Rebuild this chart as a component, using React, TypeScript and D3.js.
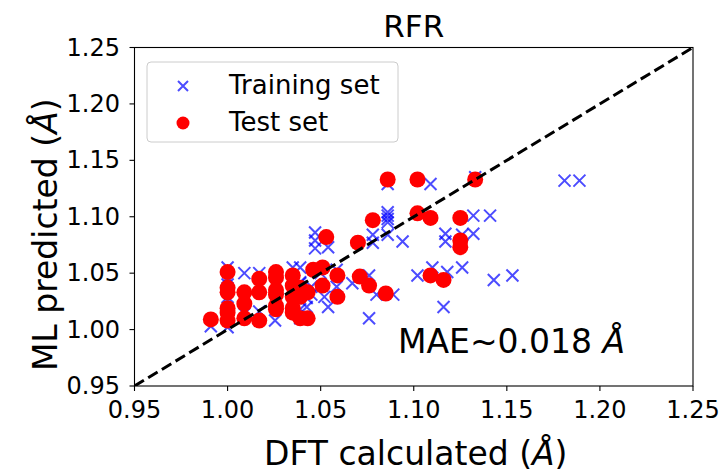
import React from "react";
import * as d3 from "d3";

const trainX = [
  0.991, 1.0, 1.0, 1.0, 1.0, 1.0, 1.0, 1.0,
  1.009, 1.009, 1.009, 1.017, 1.017, 1.017, 1.0255,
  1.035, 1.039, 1.039, 1.039, 1.039,
  1.047, 1.047, 1.047, 1.054,
  1.0425, 1.0425, 1.052, 1.054, 1.0586, 1.0586, 1.045, 1.045, 1.05, 1.039,
  1.067, 1.076, 1.08, 1.089, 1.076,
  1.078, 1.078, 1.086, 1.094,
  1.086, 1.086, 1.086, 1.086,
  1.086, 1.109, 1.133,
  1.117, 1.117, 1.126, 1.132,
  1.132, 1.141,
  1.181, 1.189,
  1.143, 1.153,
  1.102, 1.11, 1.118, 1.126,
  1.116,
];
const trainY = [
  1.003, 1.055, 1.046, 1.04, 1.029, 1.025, 1.011, 1.002,
  1.05, 1.03, 1.014, 1.05, 1.04, 1.016, 1.008,
  1.055, 1.055, 1.042, 1.018, 1.01,
  1.086, 1.079, 1.072, 1.073,
  1.02, 1.028, 1.029, 1.02, 1.038, 1.053, 1.038, 1.031, 1.05, 1.041,
  1.041, 1.048, 1.031, 1.031, 1.01,
  1.084, 1.077, 1.084, 1.078,
  1.104, 1.101, 1.098, 1.095,
  1.129, 1.129, 1.135,
  1.085, 1.078, 1.084, 1.085,
  1.101, 1.101,
  1.132, 1.132,
  1.044, 1.048,
  1.048, 1.055, 1.051, 1.055,
  1.02,
];

const testX = [
  0.991,
  1.0, 1.0, 1.0, 1.0, 1.0, 1.0,
  1.009, 1.009, 1.009,
  1.017, 1.017, 1.017,
  1.026, 1.026, 1.026, 1.026, 1.026, 1.026,
  1.035, 1.035, 1.035, 1.035, 1.035,
  1.039, 1.039, 1.039,
  1.043, 1.043,
  1.046, 1.051, 1.051, 1.059, 1.059,
  1.053,
  1.07, 1.071, 1.076, 1.078, 1.085,
  1.086, 1.102, 1.133,
  1.102, 1.109, 1.125,
  1.125, 1.125,
  1.109, 1.116,
];
const testY = [
  1.009,
  1.051, 1.037, 1.033, 1.019, 1.015, 1.008,
  1.033, 1.023, 1.01,
  1.045, 1.033, 1.008,
  1.051, 1.046, 1.035, 1.031, 1.021, 1.018,
  1.048, 1.039, 1.029, 1.019, 1.015,
  1.037, 1.029, 1.01,
  1.033, 1.01,
  1.053, 1.055, 1.039, 1.048, 1.029,
  1.082,
  1.077, 1.047, 1.039, 1.097, 1.032,
  1.133, 1.133, 1.133,
  1.103, 1.099, 1.099,
  1.079, 1.073,
  1.048, 1.044,
];

const ticks = [0.95, 1.0, 1.05, 1.1, 1.15, 1.2, 1.25];
const titleText = "RFR";
const xLabelText = "DFT calculated (";
const yLabelText = "ML predicted (";
const maeText = "MAE~0.018 ";
const legendLabels = ["Training set", "Test set"];

const W = 722;
const H = 473;
const FONT = "DejaVu Sans, sans-serif";

export default function App() {
  const x = d3.scaleLinear().domain([0.95, 1.25]).range([134.5, 693]);
  const y = d3.scaleLinear().domain([0.95, 1.25]).range([386, 47.5]);
  const [x0, x1] = x.range();
  const [y0, y1] = y.range();
  const xs = 6;

  const diag = d3.line<number>().x((d) => x(d)).y((d) => y(d));

  return (
    <svg
      width={W}
      height={H}
      style={{ position: "absolute", left: 0, top: 0, background: "#fff" }}
      fontFamily={FONT}
    >
      <rect x={0} y={0} width={W} height={H} fill="#fff" />
      <defs>
        <clipPath id="plotclip">
          <rect x={x0} y={y1} width={x1 - x0} height={y0 - y1} />
        </clipPath>
      </defs>

      <g clipPath="url(#plotclip)">
        {trainX.map((vx, i) => {
          const cx = x(vx);
          const cy = y(trainY[i]);
          return (
            <path
              key={"tr" + i}
              d={`M${cx - xs},${cy - xs}L${cx + xs},${cy + xs}M${cx - xs},${cy + xs}L${cx + xs},${cy - xs}`}
              stroke="#0000ff"
              strokeOpacity={0.7}
              strokeWidth={2}
              fill="none"
            />
          );
        })}
        {testX.map((vx, i) => (
          <circle key={"te" + i} cx={x(vx)} cy={y(testY[i])} r={8} fill="#ff0000" />
        ))}
        <path
          d={diag([0.95, 1.25]) || ""}
          stroke="#000"
          strokeWidth={3}
          strokeDasharray="11,5"
          fill="none"
        />
      </g>

      <rect x={x0} y={y1} width={x1 - x0} height={y0 - y1} fill="none" stroke="#000" strokeWidth={1.1} />

      {ticks.map((t) => (
        <g key={"xt" + t}>
          <line x1={x(t)} x2={x(t)} y1={y0} y2={y0 + 5} stroke="#000" strokeWidth={1.1} />
          <text x={x(t)} y={418} fontSize={24} textAnchor="middle" fill="#000">
            {t.toFixed(2)}
          </text>
        </g>
      ))}
      {ticks.map((t) => (
        <g key={"yt" + t}>
          <line x1={x0 - 5} x2={x0} y1={y(t)} y2={y(t)} stroke="#000" strokeWidth={1.1} />
          <text x={120} y={y(t)} fontSize={24} textAnchor="end" dominantBaseline="central" fill="#000">
            {t.toFixed(2)}
          </text>
        </g>
      ))}

      <text x={(x0 + x1) / 2} y={37} fontSize={31} textAnchor="middle" fill="#000">
        {titleText}
      </text>

      <text x={(x0 + x1) / 2 + 2} y={465} fontSize={33} textAnchor="middle" fill="#000">
        {xLabelText}
        <tspan fontStyle="italic">Å</tspan>)
      </text>

      <text
        transform={`translate(57,${(y0 + y1) / 2 + 18}) rotate(-90)`}
        fontSize={33}
        textAnchor="middle"
        fill="#000"
      >
        {yLabelText}
        <tspan fontStyle="italic">Å</tspan>)
      </text>

      <text x={398} y={353} fontSize={33} fill="#000">
        {maeText}
        <tspan fontStyle="italic">Å</tspan>
      </text>

      <g>
        <rect x={147} y={62} width={251} height={80} rx={4} ry={4} fill="#fff" fillOpacity={0.8} stroke="#ccc" strokeWidth={1} />
        <path
          d={`M${183 - 5},${86 - 5}L${183 + 5},${86 + 5}M${183 - 5},${86 + 5}L${183 + 5},${86 - 5}`}
          stroke="#0000ff"
          strokeOpacity={0.7}
          strokeWidth={2}
        />
        <text x={229} y={94} fontSize={26} fill="#000">
          {legendLabels[0]}
        </text>
        <circle cx={183} cy={123} r={6.5} fill="#ff0000" />
        <text x={229} y={131} fontSize={26} fill="#000">
          {legendLabels[1]}
        </text>
      </g>
    </svg>
  );
}
